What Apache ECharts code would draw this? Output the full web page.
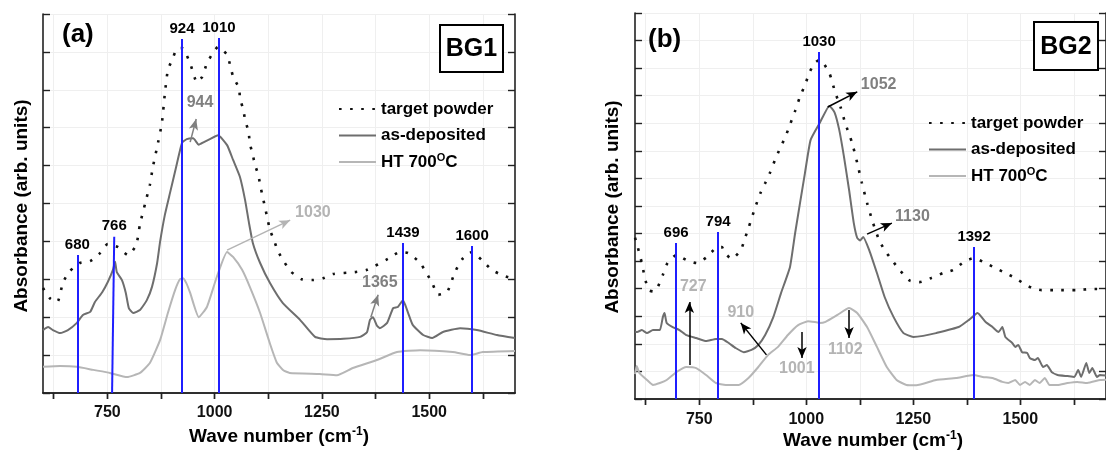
<!DOCTYPE html>
<html><head><meta charset="utf-8">
<script src="https://cdn.jsdelivr.net/npm/echarts@6/dist/echarts.min.js"></script>
<style>html,body{margin:0;padding:0;background:#fff}#c{width:1106px;height:453px}</style>
</head><body><div id="c"></div>
<script>
// ---------- tick values ----------
const xTickValues = [625, 750, 875, 1000, 1125, 1250, 1375, 1500, 1625];
const xLabelValues = [750, 1000, 1250, 1500];

// ---------- Panel (a) BG1 ----------
const bg1Target = [[600,2.77],[616,2.5],[633,2.4],[647,2.93],[663,3.22],[686,3.43],[710,3.48],[733,3.69],[751,3.93],[775,3.85],[798,3.64],[817,3.9],[826,4.45],[838,5.0],[849,5.49],[856,5.96],[868,6.6],[877,7.12],[884,7.9],[891,8.52],[901,8.79],[912,9.08],[924,9.1],[931,9.0],[943,8.7],[959,8.2],[971,8.34],[982,8.7],[996,8.97],[1008,9.13],[1029,8.92],[1043,8.35],[1057,8.04],[1059,7.78],[1067,7.47],[1071,7.2],[1079,6.9],[1082,6.59],[1089,6.28],[1094,6.02],[1102,5.75],[1106,5.49],[1112,5.18],[1117,4.92],[1123,4.61],[1129,4.3],[1138,4.04],[1148,3.73],[1162,3.46],[1178,3.2],[1203,3.0],[1228,2.98],[1253,3.03],[1276,3.14],[1327,3.19],[1355,3.25],[1404,3.54],[1432,3.72],[1451,3.69],[1479,3.43],[1507,2.9],[1521,2.59],[1542,2.67],[1560,3.19],[1579,3.56],[1600,3.72],[1623,3.5],[1646,3.25],[1670,3.11],[1700,3.0]];
const bg1Dep = [[600,1.66],[612,1.74],[623,1.66],[640,1.58],[658,1.66],[679,1.85],[693,2.06],[710,2.14],[721,2.4],[738,2.66],[751,2.93],[763,3.25],[768,3.46],[772,3.19],[784,2.98],[793,2.64],[800,2.24],[810,2.11],[826,2.19],[842,2.45],[854,2.8],[866,3.43],[873,4.0],[884,4.7],[896,5.28],[910,5.95],[924,6.6],[935,6.7],[950,6.72],[963,6.55],[975,6.62],[989,6.7],[1008,6.8],[1029,6.54],[1043,6.15],[1059,5.7],[1071,5.09],[1080,4.49],[1089,3.96],[1106,3.43],[1129,2.9],[1159,2.37],[1199,1.93],[1234,1.48],[1262,1.42],[1300,1.43],[1339,1.48],[1355,1.6],[1362,1.93],[1369,2.0],[1378,1.78],[1385,1.71],[1402,1.85],[1416,2.24],[1427,2.27],[1439,2.45],[1445,2.3],[1451,2.11],[1462,1.79],[1486,1.53],[1507,1.45],[1532,1.61],[1572,1.71],[1611,1.66],[1658,1.53],[1700,1.45]];
const bg1HT = [[600,0.69],[640,0.71],[679,0.69],[717,0.61],[756,0.53],[796,0.42],[826,0.53],[849,0.79],[873,1.4],[891,2.11],[908,2.72],[919,3.0],[926,3.03],[934,2.9],[943,2.64],[963,2.0],[982,2.27],[1005,3.06],[1029,3.72],[1043,3.59],[1064,3.25],[1082,2.8],[1106,2.11],[1129,1.3],[1145,0.8],[1160,0.6],[1175,0.53],[1245,0.5],[1285,0.47],[1322,0.66],[1378,0.87],[1425,1.08],[1479,1.13],[1555,1.08],[1595,1.0],[1625,1.08],[1700,1.11]];
// blue marker lines: [x bottom, x top, top value, label]
const bg1Peaks = [[680,680,3.64,'680'],[761,766,4.12,'766'],[924,924,9.34,'924'],[1010,1010,9.37,'1010'],[1439,1439,3.96,'1439'],[1600,1600,3.88,'1600']];
// text annotations: [x, y, text, tone]
const bg1Notes = [[966,7.65,'944','mid'],[1229,4.75,'1030','light'],[1385,2.9,'1365','mid']];
// arrows: [x0, y0, x1, y1, tone]
const bg1Arrows = [[943,6.62,957,7.23,'mid'],[1029,3.77,1176,4.56,'light'],[1364,2.0,1381,2.59,'mid']];

// ---------- Panel (b) BG2 ----------
const bg2Target = [[600,5.85],[605,5.59],[616,4.93],[623,4.39],[632,3.95],[643,3.9],[653,4.06],[665,4.5],[676,4.93],[697,5.22],[720,5.04],[745,4.93],[768,5.15],[789,5.48],[803,5.51],[808,5.33],[826,5.08],[847,5.4],[858,5.88],[865,6.2],[881,6.96],[893,7.47],[904,7.83],[916,8.23],[927,8.67],[939,9.1],[951,9.5],[962,9.95],[974,10.45],[985,10.95],[997,11.39],[1008,11.86],[1020,12.19],[1031,12.3],[1038,12.22],[1054,11.82],[1068,11.1],[1080,10.59],[1091,10.0],[1107,9.29],[1119,8.56],[1130,7.83],[1142,7.11],[1156,6.38],[1170,5.77],[1183,5.4],[1200,5.04],[1218,4.68],[1241,4.3],[1264,4.24],[1292,4.39],[1320,4.57],[1343,4.68],[1368,4.97],[1391,5.11],[1414,4.97],[1437,4.79],[1460,4.61],[1483,4.43],[1506,4.21],[1527,4.03],[1550,3.95],[1580,3.95],[1633,3.95],[1665,3.99],[1700,3.99]];
const bg2Dep = [[600,2.45],[605,2.43],[616,2.5],[628,2.39],[642,2.5],[658,2.5],[665,2.97],[669,3.12],[674,2.76],[688,2.61],[704,2.5],[720,2.32],[743,2.21],[766,2.1],[789,2.18],[803,2.18],[819,2.03],[835,1.85],[854,1.7],[872,1.78],[888,1.96],[904,2.32],[923,2.97],[941,3.84],[962,4.79],[974,6.02],[997,8.2],[1010,9.39],[1031,10.0],[1054,10.63],[1066,10.4],[1077,9.76],[1088,8.79],[1100,7.58],[1111,6.38],[1119,5.84],[1126,5.75],[1133,5.88],[1147,5.4],[1165,4.57],[1183,3.7],[1204,2.97],[1227,2.39],[1250,2.25],[1273,2.29],[1303,2.39],[1356,2.61],[1380,2.87],[1400,3.12],[1419,2.79],[1435,2.61],[1449,2.43],[1458,2.61],[1465,2.25],[1481,2.03],[1488,1.89],[1495,1.96],[1504,1.7],[1516,1.67],[1522,1.49],[1534,1.41],[1541,1.49],[1553,1.16],[1562,1.23],[1573,0.98],[1587,0.87],[1610,0.83],[1626,0.8],[1635,1.05],[1642,0.8],[1654,1.31],[1661,0.94],[1668,1.12],[1679,0.8],[1686,0.87],[1700,0.85]];
const bg2HT = [[600,0.9],[604,1.2],[610,0.95],[628,0.69],[642,0.51],[658,0.58],[674,0.69],[697,0.98],[720,1.16],[743,1.12],[766,0.87],[789,0.58],[812,0.51],[842,0.51],[865,0.76],[888,1.16],[911,1.6],[934,1.89],[957,2.32],[981,2.68],[1004,2.82],[1020,2.79],[1031,2.76],[1045,2.8],[1073,3.05],[1100,3.3],[1119,3.12],[1142,2.61],[1165,1.89],[1188,1.16],[1211,0.69],[1234,0.51],[1257,0.5],[1303,0.69],[1350,0.76],[1391,0.87],[1412,0.8],[1435,0.76],[1458,0.62],[1472,0.58],[1488,0.69],[1499,0.51],[1511,0.62],[1522,0.51],[1534,0.69],[1545,0.58],[1557,0.76],[1568,0.51],[1587,0.51],[1610,0.58],[1633,0.62],[1656,0.58],[1686,0.69],[1700,0.7]];
const bg2Peaks = [[696,696,5.66,'696'],[794,794,6.06,'794'],[1030,1030,12.59,'1030'],[1392,1392,5.51,'1392']];
const bg2Notes = [[1169,11.39,'1052','mid'],[1248,6.6,'1130','mid'],[736,4.06,'727','light'],[847,3.12,'910','light'],[978,1.12,'1001','light'],[1091,1.78,'1102','light']];
const bg2Arrows = [[1050,10.59,1119,11.14,'dark'],[1142,5.98,1200,6.38,'dark'],[727,1.23,727,3.52,'dark'],[907,1.6,847,2.76,'dark'],[990,2.43,990,1.49,'dark'],[1100,3.23,1100,2.21,'dark']];

const seriesNames = ['target powder', 'as-deposited', 'HT 700°C'];

// ---------- styles ----------
const FONT = 'Liberation Sans, Arial, sans-serif';
const C_DARK = '#111111', C_MID = '#6e6e6e', C_LIGHT = '#b6b6b6', C_BLUE = '#1f1fff';
const toneColor = {dark: '#000000', mid: '#808080', light: '#b4b4b4'};

const chart = echarts.init(document.getElementById('c'), null, {renderer: 'canvas'});

function xAxisPair(gi, labelMargin) {
  return [{
    type: 'value', gridIndex: gi, min: 600, max: 1700, position: 'bottom',
    axisLine: {lineStyle: {color: '#222', width: 1.6}},
    axisTick: {show: true, inside: false, length: 6, lineStyle: {color: '#222', width: 1.4}, customValues: xTickValues},
    axisLabel: {customValues: xLabelValues, margin: labelMargin, fontSize: 16, fontWeight: 'bold', color: '#111', fontFamily: FONT,
      formatter: v => String(v)},
    splitLine: {show: true, lineStyle: {color: '#efefef', width: 1}},
  }, {
    type: 'value', gridIndex: gi, min: 600, max: 1700, position: 'top',
    axisLine: {lineStyle: {color: '#222', width: 1.6}},
    axisTick: {show: true, inside: true, length: 6, lineStyle: {color: '#222', width: 1.4}, customValues: xTickValues},
    axisLabel: {show: false}, splitLine: {show: false}
  }];
}
function yAxisPair(gi, max) {
  return [{
    type: 'value', gridIndex: gi, min: 0, max: max, interval: 1, position: 'left',
    axisLine: {show: true, lineStyle: {color: '#222', width: 1.6}},
    axisTick: {show: true, inside: true, length: 7, lineStyle: {color: '#222', width: 1.4}},
    axisLabel: {show: false},
    splitLine: {show: true, lineStyle: {color: '#efefef', width: 1}}
  }, {
    type: 'value', gridIndex: gi, min: 0, max: max, interval: 1, position: 'right',
    axisLine: {show: true, lineStyle: {color: '#222', width: 1.6}},
    axisTick: {show: true, inside: true, length: 7, lineStyle: {color: '#222', width: 1.4}},
    axisLabel: {show: false}, splitLine: {show: false}
  }];
}

function markers(peaks, notes, arrows) {
  const lines = peaks.map(p => [
    {coord: [p[0], 0], symbol: 'none', lineStyle: {color: C_BLUE, width: 2, type: 'solid'},
     label: {show: true, position: 'end', distance: 3, formatter: p[3], fontSize: 15, fontWeight: 'bold', color: '#000', fontFamily: FONT}},
    {coord: [p[1], p[2]], symbol: 'none'}
  ]).concat(arrows.map(a => [
    {coord: [a[0], a[1]], symbol: 'none', lineStyle: {color: toneColor[a[4]], width: 1.5, type: 'solid'}, label: {show: false}},
    {coord: [a[2], a[3]], symbol: 'arrow', symbolSize: [7, 11]}
  ]));
  return {
    markLine: {silent: true, animation: false, data: lines, emphasis: {disabled: true}},
    markPoint: {silent: true, animation: false, symbol: 'circle', symbolSize: 0,
      data: notes.map(n => ({coord: [n[0], n[1]], name: n[2],
        label: {show: true, position: 'inside', formatter: n[2], fontSize: 16, fontWeight: 'bold', color: toneColor[n[3]], fontFamily: FONT}}))}
  };
}

function panelSeries(gi, target, dep, ht, peaks, notes, arrows) {
  const xi = gi * 2, yi = gi * 2;
  return [
    Object.assign({name: seriesNames[0], type: 'line', xAxisIndex: xi, yAxisIndex: yi, data: target, symbol: 'none', smooth: 0.2,
      lineStyle: {color: C_DARK, width: 2.6, type: [2.6, 8.5]}, itemStyle: {color: C_DARK}, z: 3}, markers(peaks, notes, arrows)),
    {name: seriesNames[1], type: 'line', xAxisIndex: xi, yAxisIndex: yi, data: dep, symbol: 'none', smooth: 0.15,
      lineStyle: {color: C_MID, width: 2}, itemStyle: {color: C_MID}, z: 2},
    {name: seriesNames[2], type: 'line', xAxisIndex: xi, yAxisIndex: yi, data: ht, symbol: 'none', smooth: 0.15,
      lineStyle: {color: C_LIGHT, width: 2}, itemStyle: {color: C_LIGHT}, z: 2}
  ];
}

function legendAt(left, top) {
  return {
    orient: 'vertical', left: left, top: top, itemWidth: 37, itemHeight: 14, itemGap: 6.5,
    data: seriesNames, selectedMode: false,
    itemStyle: {opacity: 0},
    textStyle: {fontSize: 17, fontWeight: 'bold', color: '#000', fontFamily: FONT, lineHeight: 20,
      rich: {s: {fontSize: 11, fontWeight: 'bold', verticalAlign: 'top', lineHeight: 10, color: '#000', fontFamily: FONT}}},
    formatter: n => n === 'HT 700°C' ? 'HT 700{s|O}C' : n
  };
}

const xTitleRich = {
  t: {fontSize: 19, fontWeight: 'bold', fontFamily: FONT, color: '#000', lineHeight: 22},
  s: {fontSize: 12, fontWeight: 'bold', fontFamily: FONT, color: '#000', lineHeight: 12, verticalAlign: 'top'}
};

const option = {
  animation: false,
  backgroundColor: '#ffffff',
  grid: [
    {left: 43, top: 14, width: 472, height: 379},
    {left: 635, top: 13, width: 477, height: 386}
  ],
  xAxis: [...xAxisPair(0, 12), ...xAxisPair(1, 13)],
  yAxis: [...yAxisPair(0, 10), ...yAxisPair(1, 14)],
  legend: [legendAt(333, 94), legendAt(923, 108)],
  series: [
    ...panelSeries(0, bg1Target, bg1Dep, bg1HT, bg1Peaks, bg1Notes, bg1Arrows),
    ...panelSeries(1, bg2Target, bg2Dep, bg2HT, bg2Peaks, bg2Notes, bg2Arrows)
  ],
  graphic: [
    {type: 'text', left: 62, top: 22, z: 100, silent: true, style: {text: '(a)', fontSize: 26, fontWeight: 'bold', fontFamily: FONT, fill: '#000'}},
    {type: 'text', left: 648, top: 27, z: 100, silent: true, style: {text: '(b)', fontSize: 26, fontWeight: 'bold', fontFamily: FONT, fill: '#000'}},
    {type: 'rect', z: 100, shape: {x: 440, y: 25, width: 63, height: 47}, silent: true, style: {fill: '#fff', stroke: '#000', lineWidth: 2}},
    {type: 'text', z: 101, x: 471.5, y: 49, silent: true, style: {text: 'BG1', align: 'center', verticalAlign: 'middle', fontSize: 25, fontWeight: 'bold', fontFamily: FONT, fill: '#000'}},
    {type: 'rect', z: 100, shape: {x: 1034, y: 22, width: 64, height: 48}, silent: true, style: {fill: '#fff', stroke: '#000', lineWidth: 2}},
    {type: 'text', z: 101, x: 1066, y: 47, silent: true, style: {text: 'BG2', align: 'center', verticalAlign: 'middle', fontSize: 25, fontWeight: 'bold', fontFamily: FONT, fill: '#000'}},
    {type: 'text', z: 100, x: 22, y: 206, rotation: Math.PI / 2, silent: true, style: {text: 'Absorbance (arb. units)', align: 'center', verticalAlign: 'middle', fontSize: 19, fontWeight: 'bold', fontFamily: FONT, fill: '#000'}},
    {type: 'text', z: 100, x: 613, y: 207, rotation: Math.PI / 2, silent: true, style: {text: 'Absorbance (arb. units)', align: 'center', verticalAlign: 'middle', fontSize: 19, fontWeight: 'bold', fontFamily: FONT, fill: '#000'}},
    {type: 'text', z: 100, x: 279, y: 437, silent: true, style: {text: '{t|Wave number (cm}{s|-1}{t|)}', rich: xTitleRich, align: 'center', verticalAlign: 'middle'}},
    {type: 'text', z: 100, x: 873, y: 441, silent: true, style: {text: '{t|Wave number (cm}{s|-1}{t|)}', rich: xTitleRich, align: 'center', verticalAlign: 'middle'}}
  ]
};
chart.setOption(option);
</script>
</body></html>
